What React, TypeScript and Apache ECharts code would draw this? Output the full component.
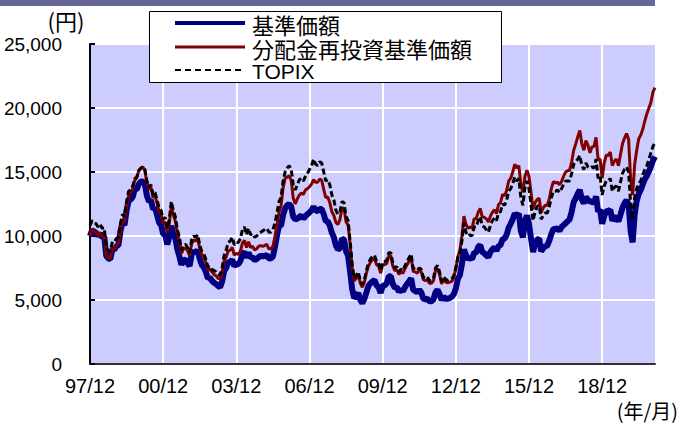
import React, { useEffect, useRef } from 'react';
import * as echarts from 'echarts';

// Month categories, starting 1997/12, one per month (279 months to 2021/02)
const START_YEAR = 1997;
const START_MONTH = 12;
const MONTH_COUNT = 279;
const months: string[] = [];
for (let i = 0; i < MONTH_COUNT; i++) {
  const total = START_YEAR * 12 + (START_MONTH - 1) + i;
  const y = Math.floor(total / 12) % 100;
  const m = (total % 12) + 1;
  months.push(`${String(y).padStart(2, '0')}/${String(m).padStart(2, '0')}`);
}

const yTicks = [0, 5000, 10000, 15000, 20000, 25000];

// 基準価額 (navy, thick)
const nav = [
  10000,
  10450, 10350, 10250, 10000, 10200, 9900, 9950, 8450, 8250, 8200, 8950, 8950,
  9200, 9300, 10400, 11050, 10850, 12000, 12750, 12850, 13050, 13650, 13650, 14050,
  14250, 14250, 14050, 13150, 12700, 12800, 12100, 12200, 11650, 11050, 10850, 10150,
  10100, 9350, 9900, 10800, 10200, 9800, 8950, 8400, 7750, 8100, 8150, 7900,
  7650, 8550, 8800, 8700, 8900, 8200, 7750, 7550, 7200, 6700, 6750, 6500,
  6350, 6250, 6100, 6000, 6450, 7250, 7500, 8000, 7950, 8150, 7650, 7800,
  7800, 8050, 8600, 8750, 8300, 8700, 8300, 8350, 8100, 8200, 8350, 8450,
  8400, 8450, 8500, 8250, 8250, 8400, 9150, 10050, 10800, 10800, 11650, 12150,
  12400, 12500, 12300, 11500, 11300, 11350, 11500, 11600, 11350, 11550, 11700, 11850,
  12000, 12300, 12000, 11950, 12100, 12100, 11700, 11150, 11150, 10800, 10250, 9900,
  9250, 8950, 9050, 9800, 9700, 8800, 8450, 7200, 5850, 5150, 5300, 5550,
  5000, 4750, 5100, 5600, 6100, 6300, 6450, 6550, 6150, 6000, 5550, 6100,
  6150, 6300, 6850, 6850, 6250, 5950, 6000, 5650, 5800, 5700, 6000, 6250,
  6450, 6700, 5800, 5700, 5600, 5800, 5600, 5100, 5050, 5100, 4900, 4900,
  5050, 5600, 5800, 5450, 5000, 5250, 5100, 5100, 5150, 5250, 5450, 5900,
  6650, 6950, 7800, 8950, 8500, 8200, 8300, 8200, 8700, 8700, 9150, 9300,
  8750, 8650, 8500, 8350, 8750, 8950, 9100, 8850, 9200, 9300, 9750, 9800,
  10100, 10650, 10950, 11300, 11750, 11600, 11750, 10400, 9900, 11200, 11600, 10950,
  9800, 8750, 9400, 9700, 9800, 8800, 9050, 9200, 9250, 9650, 10150, 10550,
  10550, 10600, 10400, 10700, 10850, 11000, 11150, 11300, 11900, 12650, 12950, 13300,
  13600, 12850, 12550, 13050, 12800, 12700, 12700, 12550, 13100, 11900, 12050, 10950,
  11550, 11950, 11950, 12050, 11200, 11450, 11450, 11150, 11650, 12200, 12550, 12800,
  12450, 10400, 9500, 11700, 12750, 13300, 13600, 14050, 14450, 14700, 15050, 15450,
  15900, 16200,
];

// 分配金再投資基準価額 (maroon)
const reinvested = [
  10000,
  10550, 10400, 10300, 10050, 10250, 9950, 10000, 8500, 8300, 8250, 9000, 9000,
  9250, 9400, 10500, 11250, 11100, 12300, 13150, 13350, 13700, 14350, 14550, 15100,
  15300, 15400, 15100, 14150, 13650, 13800, 13000, 13150, 12550, 11900, 11700, 10950,
  11100, 10300, 10950, 12300, 11650, 11150, 10200, 9600, 8650, 9000, 9050, 8850,
  8450, 9400, 9700, 9600, 9800, 9000, 8550, 8350, 7950, 7350, 7400, 7200,
  7000, 6900, 6700, 6650, 7150, 8050, 8350, 8850, 8900, 9100, 8500, 8650,
  8550, 8800, 9450, 9650, 9100, 9550, 9100, 9200, 8900, 9000, 9200, 9250,
  9200, 9250, 9350, 9000, 9000, 9200, 9900, 10850, 11850, 12350, 13750, 14500,
  14600, 14700, 14350, 12950, 12500, 12900, 13200, 13350, 13250, 13600, 13700, 13850,
  14050, 14400, 14200, 14200, 14450, 14350, 13650, 13000, 13050, 12600, 11900, 11600,
  11050, 10900, 11300, 12200, 12150, 11100, 10850, 9300, 7550, 6500, 6700, 7000,
  6300, 6000, 6400, 7100, 7650, 7950, 8150, 8250, 7750, 7650, 7100, 7750,
  7750, 7850, 8450, 8450, 7650, 7300, 7350, 7000, 7200, 7100, 7450, 7750,
  8050, 8350, 7250, 7200, 7100, 7300, 7200, 6600, 6500, 6600, 6300, 6300,
  6500, 7300, 7450, 7000, 6250, 6600, 6400, 6350, 6400, 6450, 6750, 7450,
  8400, 8850, 10000, 11550, 10900, 10600, 10700, 10600, 11350, 11350, 11850, 12150,
  11500, 11450, 11350, 11100, 11550, 11850, 12050, 11750, 12450, 12600, 13250, 13150,
  13550, 14300, 14500, 15000, 15600, 15300, 15500, 14050, 13400, 14650, 15150, 14650,
  13400, 12100, 12600, 12850, 12950, 11850, 12200, 12400, 12400, 12900, 13700, 14250,
  14150, 14200, 14000, 14250, 14650, 15000, 15100, 15150, 15800, 16700, 17200, 17750,
  18250, 17200, 16700, 17450, 17100, 16500, 16950, 17000, 17700, 15950, 16000, 14500,
  15700, 16300, 16300, 16550, 15500, 15850, 16000, 15500, 16350, 17200, 17650, 18000,
  17550, 14500, 13200, 15600, 16700, 17600, 17900, 18350, 19000, 19550, 20000, 20450,
  21250, 21600,
];

// TOPIX (black dashed)
const topix = [
  10800,
  11200, 11050, 10950, 10700, 10900, 10600, 10650, 9050, 8850, 8800, 9550, 9550,
  9800, 9900, 11000, 11700, 11500, 12700, 13500, 13600, 13900, 14500, 14600, 15100,
  15300, 15400, 15200, 14300, 13800, 14000, 13200, 13400, 12800, 12200, 12000, 11300,
  11450, 10600, 11300, 12700, 12000, 11500, 10500, 9900, 8900, 9300, 9350, 9100,
  8700, 9700, 10000, 9900, 10100, 9300, 8800, 8600, 8200, 7600, 7650, 7400,
  7300, 7200, 7000, 6950, 7500, 8500, 8900, 9500, 9600, 9900, 9300, 9500,
  9500, 9800, 10500, 10700, 10100, 10600, 10100, 10200, 9900, 10000, 10200, 10300,
  10400, 10500, 10600, 10300, 10300, 10500, 11000, 11800, 12700, 13000, 14300, 15000,
  15300, 15500, 15200, 14000, 13600, 14000, 14400, 14500, 14300, 14650, 14900, 15200,
  15500, 16000, 15600, 15500, 15800, 15700, 15000, 14300, 14400, 14000, 13200, 12800,
  12000, 11700, 11900, 12700, 12600, 11500, 11200, 9600, 7800, 6700, 6900, 7200,
  6500, 6200, 6600, 7300, 7900, 8200, 8400, 8500, 8000, 7900, 7300, 8000,
  8000, 8100, 8700, 8700, 7900, 7500, 7600, 7200, 7400, 7300, 7700, 8000,
  8300, 8600, 7500, 7400, 7300, 7500, 7400, 6800, 6700, 6800, 6500, 6500,
  6700, 7500, 7700, 7200, 6450, 6800, 6600, 6550, 6600, 6650, 6900, 7500,
  8300, 8700, 9600, 11000, 10300, 10000, 10100, 10000, 10700, 10700, 11200, 11500,
  10800, 10700, 10500, 10300, 10800, 11200, 11400, 11200, 11800, 11900, 12500, 12400,
  12800, 13500, 13700, 14100, 14600, 14300, 14500, 13000, 12400, 13800, 14300, 13700,
  12400, 11200, 11900, 12300, 12400, 11300, 11600, 11800, 11800, 12300, 13000, 13500,
  13500, 13600, 13400, 13700, 14000, 14300, 14300, 14300, 14900, 15600, 15800, 16000,
  16300, 15500, 15200, 15700, 15400, 15300, 15400, 15300, 16000, 14500, 14700, 13200,
  13900, 14300, 14300, 14500, 13500, 13800, 13900, 13500, 14200, 14900, 15200, 15400,
  15000, 12500, 11300, 13000, 13700, 14100, 14300, 14800, 15200, 15500, 16000, 16500,
  17000, 17300,
];

const seriesNames = ['基準価額', '分配金再投資基準価額', 'TOPIX'];
const LABEL_STEP = 36;
const LATIN = '"Liberation Sans", Arial, sans-serif';
const CJK = '"Noto Sans CJK JP", "Liberation Sans", sans-serif';

export default function App() {
  const ref = useRef<HTMLDivElement>(null);

  useEffect(() => {
    if (!ref.current) return;
    const chart = echarts.init(ref.current, null, { renderer: 'svg' });
    const showIdx = (i: number) => i % LABEL_STEP === 0;
    const legendText = (text: string, y: number, size: number, family: string) => ({
      type: 'text',
      x: 252,
      y,
      style: {
        text,
        fontSize: size,
        lineHeight: 21,
        fontFamily: family,
        fill: '#000000',
        align: 'left',
        verticalAlign: 'middle',
      },
      z: 101,
    });
    chart.setOption({
      animation: false,
      backgroundColor: '#ffffff',
      grid: {
        left: 90,
        top: 44,
        width: 565,
        height: 320,
        show: true,
        backgroundColor: '#ccccff',
        borderWidth: 0,
      },
      xAxis: {
        type: 'category',
        data: months,
        boundaryGap: false,
        axisLine: { show: true, lineStyle: { color: '#333333', width: 2 } },
        axisTick: { show: false },
        axisLabel: {
          interval: showIdx,
          color: '#000000',
          fontSize: 20,
          fontFamily: LATIN,
          margin: 12,
        },
        splitLine: {
          show: true,
          interval: showIdx,
          lineStyle: { color: '#ffffff', width: 2 },
        },
      },
      yAxis: {
        type: 'value',
        min: yTicks[0],
        max: yTicks[yTicks.length - 1],
        interval: 5000,
        axisLine: { show: true, lineStyle: { color: '#000000', width: 2 } },
        axisTick: { show: true, inside: true, length: 5, lineStyle: { color: '#000000', width: 2 } },
        axisLabel: {
          color: '#000000',
          fontSize: 19,
          fontFamily: LATIN,
          margin: 28,
          formatter: (v: number) => v.toLocaleString('en-US'),
        },
        splitLine: { show: true, lineStyle: { color: '#ffffff', width: 2 } },
      },
      series: [
        {
          name: seriesNames[0],
          type: 'line',
          data: nav,
          showSymbol: false,
          symbol: 'none',
          lineStyle: { color: '#000080', width: 6 },
          z: 2,
        },
        {
          name: seriesNames[1],
          type: 'line',
          data: reinvested,
          showSymbol: false,
          symbol: 'none',
          lineStyle: { color: '#800000', width: 3 },
          z: 3,
        },
        {
          name: seriesNames[2],
          type: 'line',
          data: topix,
          showSymbol: false,
          symbol: 'none',
          lineStyle: { color: '#000000', width: 3, type: [6, 3] },
          z: 4,
        },
      ],
      graphic: [
        { type: 'rect', shape: { x: 0, y: 0, width: 655, height: 6 }, style: { fill: '#666699' }, z: 10 },
        {
          type: 'text',
          x: 66,
          y: 20,
          style: { text: '(円)', fontSize: 22, lineHeight: 22, fontFamily: CJK, fill: '#000000', align: 'center', verticalAlign: 'middle' },
          z: 10,
        },
        {
          type: 'text',
          x: 678,
          y: 410,
          style: { text: '(年/月)', fontSize: 20, lineHeight: 20, fontFamily: CJK, fill: '#000000', align: 'right', verticalAlign: 'middle' },
          z: 10,
        },
        {
          type: 'group',
          z: 100,
          children: [
            {
              type: 'rect',
              shape: { x: 149.5, y: 11.5, width: 352, height: 71 },
              style: { fill: '#ffffff', stroke: '#000000', lineWidth: 1 },
              z: 100,
            },
            {
              type: 'line',
              shape: { x1: 175, y1: 23, x2: 245, y2: 23 },
              style: { stroke: '#000080', lineWidth: 4 },
              z: 101,
            },
            {
              type: 'line',
              shape: { x1: 175, y1: 47, x2: 245, y2: 47 },
              style: { stroke: '#800000', lineWidth: 3 },
              z: 101,
            },
            {
              type: 'line',
              shape: { x1: 175, y1: 70, x2: 245, y2: 70 },
              style: { stroke: '#000000', lineWidth: 2, lineDash: [6, 4] },
              z: 101,
            },
            legendText(seriesNames[0], 24, 22, CJK),
            legendText(seriesNames[1], 48, 22, CJK),
            legendText(seriesNames[2], 71, 21, LATIN),
          ],
        },
      ],
    });
    return () => chart.dispose();
  }, []);

  return (
    <div
      ref={ref}
      style={{ position: 'fixed', left: 0, top: 0, width: 683, height: 423, background: '#ffffff' }}
    />
  );
}
